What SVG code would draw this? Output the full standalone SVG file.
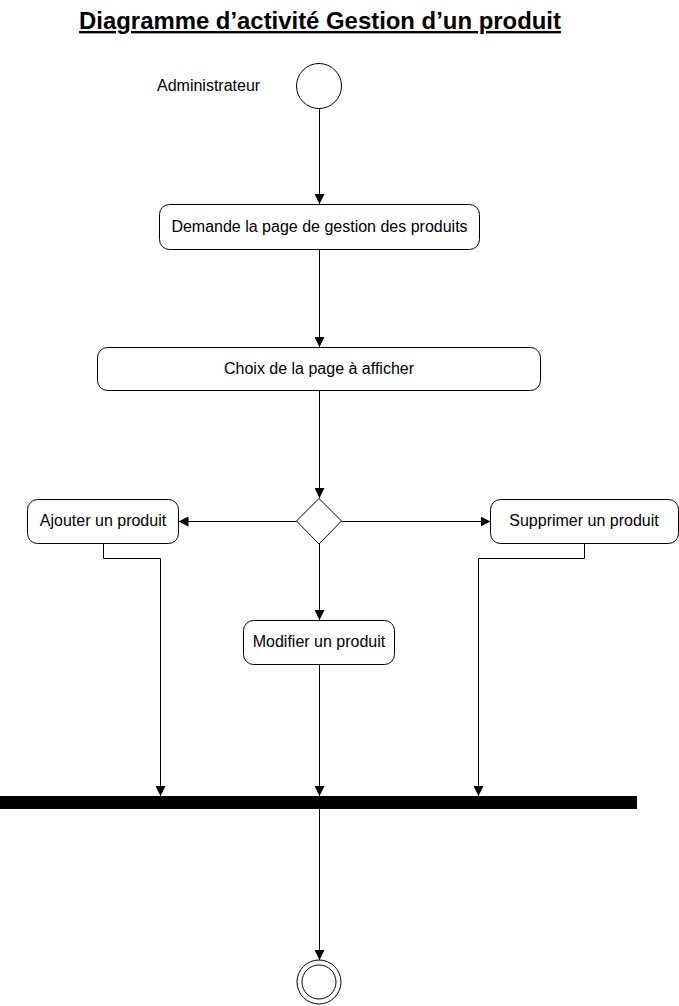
<svg xmlns="http://www.w3.org/2000/svg" width="679" height="1006" viewBox="0 0 679 1006">
<defs>
<marker id="arr" viewBox="0 0 10 10" refX="10" refY="5" markerWidth="10" markerHeight="10" markerUnits="userSpaceOnUse" orient="auto">
<path d="M0,0 L10,5 L0,10 z" fill="#000"/>
</marker>
</defs>
<style>
text{font-family:"Liberation Sans",Arial,sans-serif;fill:#000}
.t{font-size:16px;text-anchor:middle;dominant-baseline:central}
.n{fill:#fff;stroke:#000;stroke-width:1}
.c{fill:none;stroke:#000;stroke-width:1;marker-end:url(#arr)}
</style>
<rect width="679" height="1006" fill="#fff"/>
<text x="320" y="29" font-size="23.9" font-weight="bold" text-anchor="middle" text-decoration="underline">Diagramme d’activité Gestion d’un produit</text>
<text x="157" y="90.5" font-size="16">Administrateur</text>
<g id="start"><circle class="n" cx="319" cy="86" r="22.5"/></g>
<g id="demande"><rect class="n" x="159.5" y="204.5" width="320" height="45" rx="10"/><text class="t" x="319.5" y="226">Demande la page de gestion des produits</text></g>
<g id="choix"><rect class="n" x="97.5" y="347.5" width="443" height="43" rx="10"/><text class="t" x="319" y="368">Choix de la page à afficher</text></g>
<g id="decision"><path class="n" d="M319,498.5 L341.5,521 L319,544 L296.5,521 z"/></g>
<g id="ajouter"><rect class="n" x="27.5" y="499.5" width="151" height="44" rx="10"/><text class="t" x="103" y="520.5">Ajouter un produit</text></g>
<g id="supprimer"><rect class="n" x="490.5" y="499.5" width="188" height="44" rx="10"/><text class="t" x="584" y="520.5">Supprimer un produit</text></g>
<g id="modifier"><rect class="n" x="243.5" y="620.5" width="151" height="44" rx="10"/><text class="t" x="319" y="641.5">Modifier un produit</text></g>
<g id="join"><rect x="0" y="796" width="637" height="13" fill="#000"/></g>
<g id="end"><circle class="n" cx="319" cy="982" r="22"/><circle class="n" cx="319" cy="982" r="17"/></g>
<g id="connectors">
<path class="c" d="M319.5,109 V204"/>
<path class="c" d="M319.5,250 V347"/>
<path class="c" d="M319.5,391 V498"/>
<path class="c" d="M296.5,521.5 H178.5"/>
<path class="c" d="M341.5,521.5 H490.5"/>
<path class="c" d="M319.5,544 V620"/>
<path class="c" d="M103.5,544 V558.5 H160.5 V796"/>
<path class="c" d="M584.5,544 V558.5 H478.5 V796"/>
<path class="c" d="M319.5,665 V796"/>
<path class="c" d="M319.5,809 V960"/>
</g>
</svg>
